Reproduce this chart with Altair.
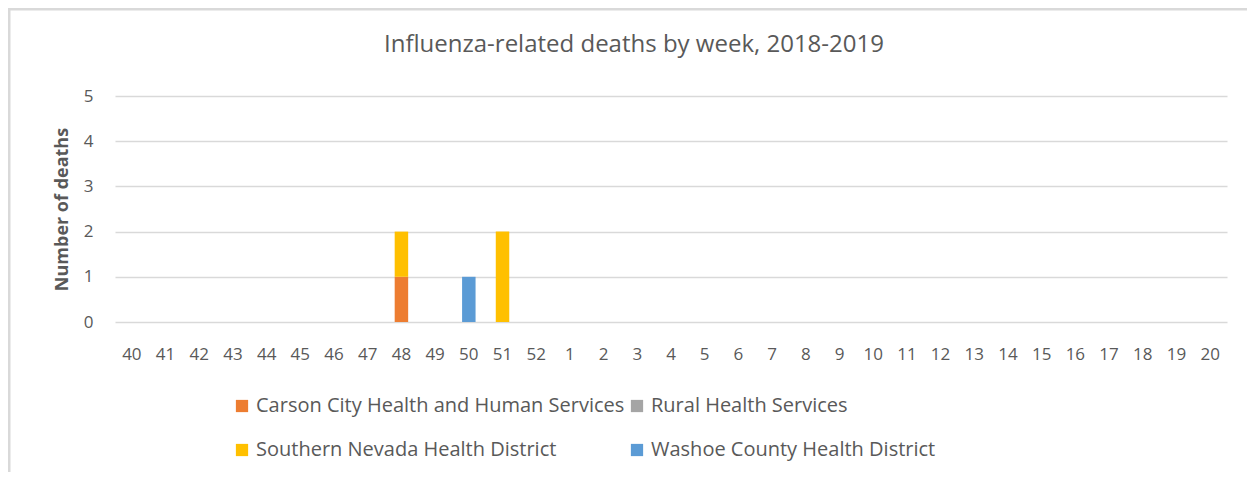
import altair as alt
import pandas as pd

weeks = ["40","41","42","43","44","45","46","47","48","49","50","51","52",
         "1","2","3","4","5","6","7","8","9","10","11","12","13","14","15","16","17","18","19","20"]
data_weeks = ["40","41","42","43","44","45","46","47","48","49","50","51","52"]
series = ["Carson City Health and Human Services", "Rural Health Services",
          "Southern Nevada Health District", "Washoe County Health District"]
colors = ["#ED7D31", "#A5A5A5", "#FFC000", "#5B9BD5"]
carson = [0,0,0,0,0,0,0,0,1,0,0,0,0]
rural = [0,0,0,0,0,0,0,0,0,0,0,0,0]
southern = [0,0,0,0,0,0,0,0,1,0,0,2,0]
washoe = [0,0,0,0,0,0,0,0,0,0,1,0,0]
title_text = "Influenza-related deaths by week, 2018-2019"

rows = []
for si, (name, vals) in enumerate(zip(series, [carson, rural, southern, washoe])):
    for w, v in zip(data_weeks, vals):
        rows.append({"week": w, "series": name, "deaths": v, "order": si})
df = pd.DataFrame(rows)
one = pd.DataFrame({"t": [title_text]})

font = "Open Sans"
gray = "#595959"
frame = "#D9D9D9"
legend_order = [series[0], series[2], series[1], series[3]]

bars = alt.Chart(df).mark_bar().encode(
    x=alt.X("week:N", scale=alt.Scale(domain=weeks, paddingInner=0.6, paddingOuter=0.3),
            axis=alt.Axis(title=None, labelAngle=0, labelFontSize=17, labelColor=gray,
                          labelFont=font, ticks=False, domain=False, labelPadding=24)),
    y=alt.Y("deaths:Q", stack="zero", scale=alt.Scale(domain=[0, 5]),
            axis=alt.Axis(title="Number of deaths", values=[0,1,2,3,4,5], format="d",
                          titleFontSize=18, titleFont=font, titleColor=gray, titleFontWeight="bold",
                          titlePadding=12,
                          labelFontSize=17, labelColor=gray, labelFont=font, labelPadding=22,
                          ticks=False, domain=False, gridColor="#D9D9D9", gridWidth=1.5)),
    color=alt.Color("series:N", scale=alt.Scale(domain=series, range=colors),
                    legend=alt.Legend(title=None, orient="none", legendX=117, legendY=300,
                                      values=legend_order,
                                      columns=2, columnPadding=2, rowPadding=24,
                                      symbolType="square", symbolSize=150,
                                      labelFontSize=20, labelColor=gray, labelFont=font,
                                      labelLimit=600)),
    order=alt.Order("order:Q"),
)

top_line = alt.Chart(one).mark_rule(color=frame, strokeWidth=3).encode(
    x=alt.value(-107), x2=alt.value(1160), y=alt.value(-87))
left_line = alt.Chart(one).mark_rule(color=frame, strokeWidth=3).encode(
    x=alt.value(-106), y=alt.value(-88), y2=alt.value(420))
title = alt.Chart(one).mark_text(font=font, fontSize=24, color=gray, align="center",
                                 baseline="middle").encode(
    text="t:N", x=alt.value(519), y=alt.value(-51))

chart = alt.layer(bars, top_line, left_line, title).properties(
    width=1112, height=226,
    autosize=alt.AutoSizeParams(type="none"),
    padding={"left": 107, "top": 88, "right": 20, "bottom": 150},
).configure_view(stroke=None)

chart.save("out.html", embed_options={"renderer": "svg", "actions": False})
